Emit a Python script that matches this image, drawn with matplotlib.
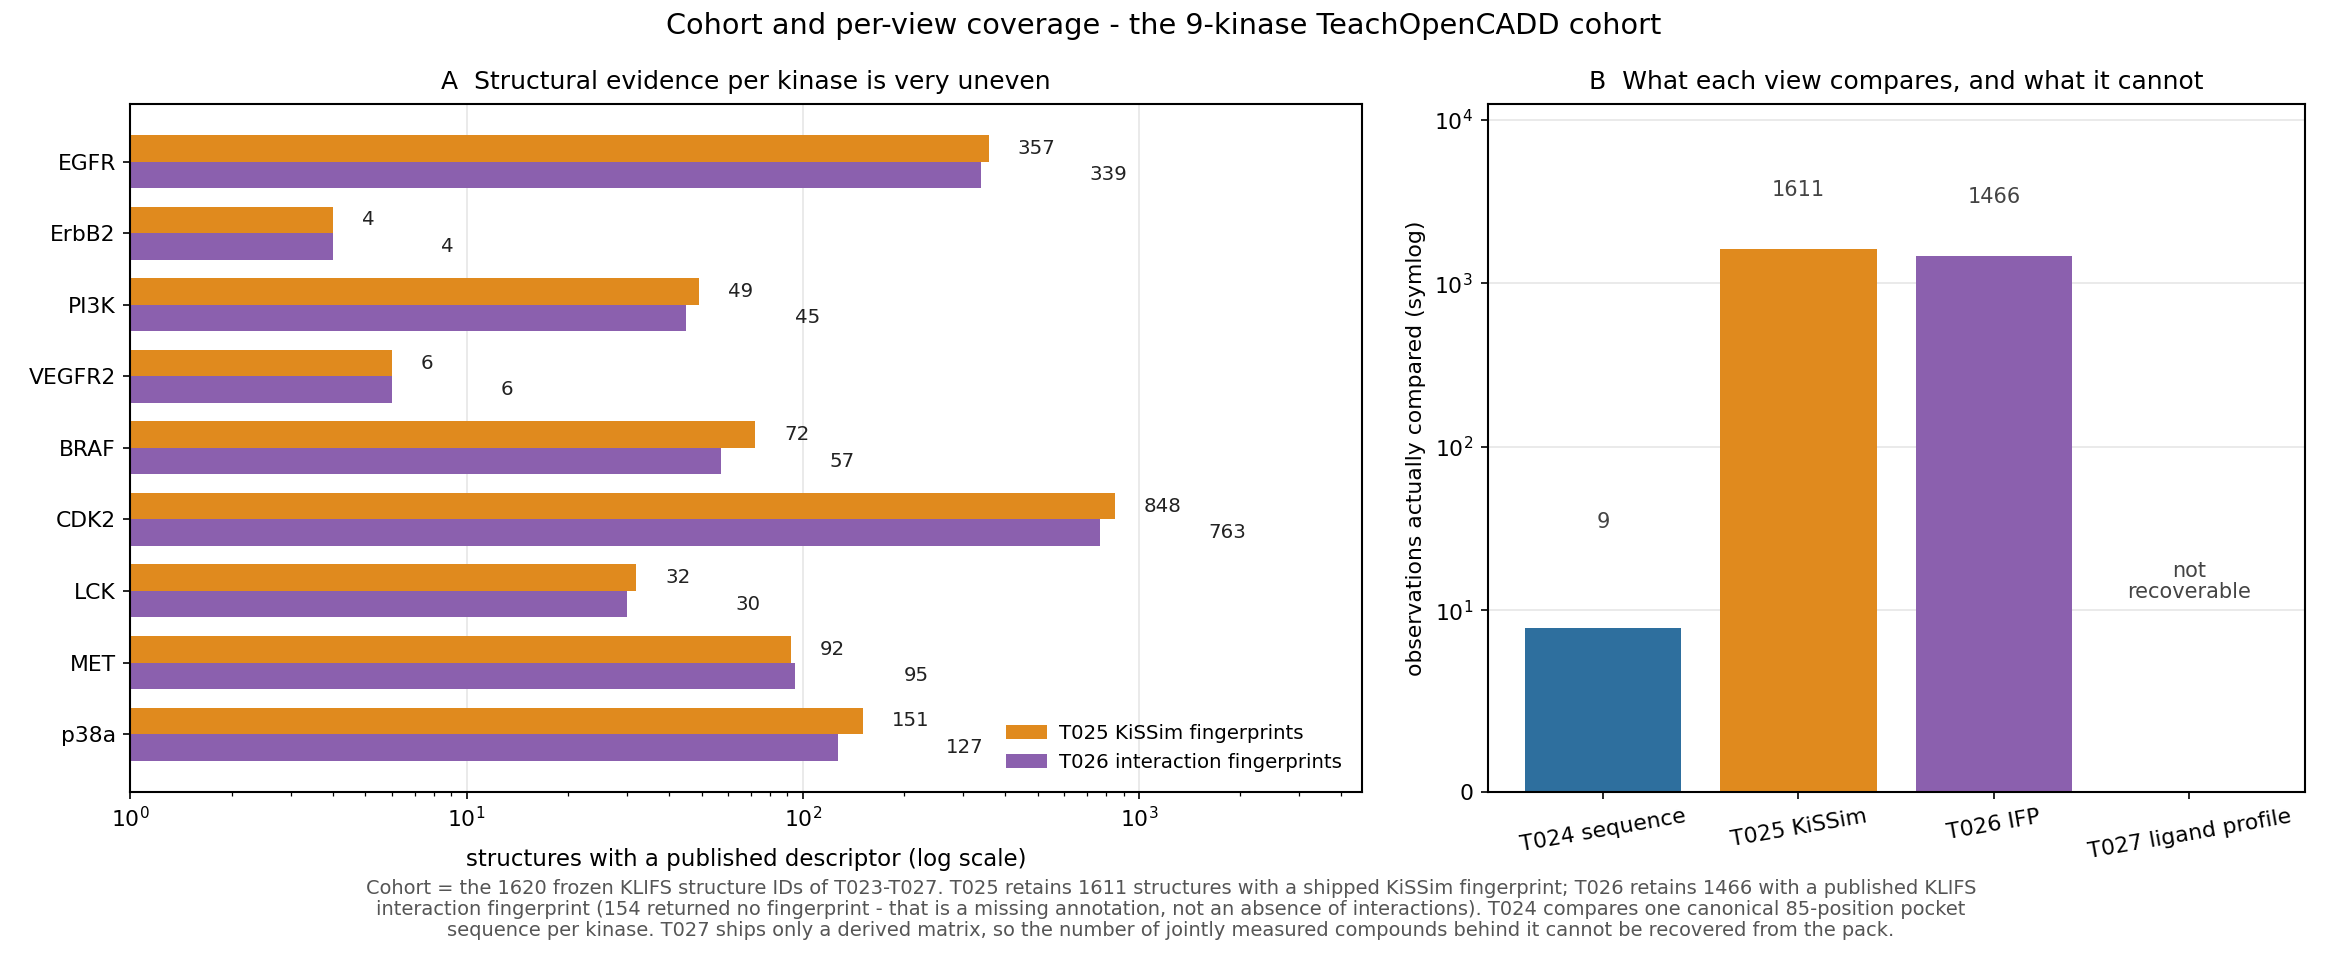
import matplotlib.pyplot as plt
import numpy as np

plt.rcParams['font.family'] = ['DejaVu Sans']
plt.rcParams['axes.linewidth'] = 1.0

# per-kinase structure counts (panel A)
kinases = ['EGFR', 'ErbB2', 'PI3K', 'VEGFR2', 'BRAF', 'CDK2', 'LCK', 'MET', 'p38a']
kissim = [357, 4, 49, 6, 72, 848, 32, 92, 151]
ifp = [339, 4, 45, 6, 57, 763, 30, 95, 127]

# per-view observation counts (panel B); None = not recoverable
views = ['T024 sequence', 'T025 KiSSim', 'T026 IFP', 'T027 ligand profile']
view_counts = [9, 1611, 1466, None]

c_orange = '#e08a1e'
c_purple = '#8b60ae'
c_blue = '#2e6f9e'

fig = plt.figure(figsize=(2328 / 150, 961 / 150), dpi=150)
axA = fig.add_axes([0.056, 0.176, 0.529, 0.716])
axB = fig.add_axes([0.639, 0.176, 0.351, 0.716])

y = np.arange(len(kinases))
h = 0.37
axA.barh(y - h / 2, kissim, height=h, color=c_orange, label='T025 KiSSim fingerprints', zorder=2)
axA.barh(y + h / 2, ifp, height=h, color=c_purple, label='T026 interaction fingerprints', zorder=2)
for i in range(len(kinases)):
    axA.text(kissim[i] * 1.22, y[i] - h / 2, str(kissim[i]), va='center', ha='left',
             fontsize=9.5, color='#222222')
    axA.text(ifp[i] * 2.1, y[i] + h / 2, str(ifp[i]), va='center', ha='left',
             fontsize=9.5, color='#222222')
axA.set_xscale('log')
axA.set_xlim(1, 4600)
axA.set_yticks(y)
axA.set_yticklabels(kinases, fontsize=10.5)
axA.invert_yaxis()
axA.tick_params(axis='x', labelsize=10.5)
axA.grid(axis='x', which='major', color='#e6e6e6', lw=0.8, zorder=0)
axA.set_axisbelow(True)
axA.set_xlabel('structures with a published descriptor (log scale)', fontsize=11, labelpad=8)
axA.set_title('A  Structural evidence per kinase is very uneven', fontsize=12, pad=7)
axA.legend(loc='lower right', frameon=False, fontsize=9.5, handlelength=2.1,
           handletextpad=0.6, borderaxespad=0.6)

xb = np.arange(len(views))
colors = [c_blue, c_orange, c_purple, 'none']
vals = [v if v is not None else 0 for v in view_counts]
axB.bar(xb, vals, width=0.8, color=colors, zorder=2)
axB.set_yscale('symlog', linthresh=10)
axB.set_ylim(0, 12500)
for i, v in enumerate(view_counts):
    if v is None:
        axB.text(xb[i], 15, 'not\nrecoverable', ha='center', va='center',
                 fontsize=10, color='#444444', linespacing=1.1)
    else:
        axB.text(xb[i], max(v * 2, 30), str(v), ha='center', va='bottom',
                 fontsize=10, color='#444444')
axB.set_xticks(xb)
axB.set_xticklabels(views, rotation=10, fontsize=10.5)
axB.tick_params(axis='y', labelsize=10.5)
axB.yaxis.set_minor_locator(plt.NullLocator())
axB.grid(axis='y', color='#e6e6e6', lw=0.8, zorder=0)
axB.set_axisbelow(True)
axB.set_ylabel('observations actually compared (symlog)', fontsize=10.5)
axB.set_title('B  What each view compares, and what it cannot', fontsize=12, pad=7)

fig.suptitle('Cohort and per-view coverage - the 9-kinase TeachOpenCADD cohort', fontsize=13.8, y=0.988)

note = ('Cohort = the 1620 frozen KLIFS structure IDs of T023-T027. T025 retains 1611 structures with a shipped '
        'KiSSim fingerprint; T026 retains 1466 with a published KLIFS\n'
        'interaction fingerprint (154 returned no fingerprint - that is a missing annotation, not an absence of '
        'interactions). T024 compares one canonical 85-position pocket\n'
        'sequence per kinase. T027 ships only a derived matrix, so the number of jointly measured compounds '
        'behind it cannot be recovered from the pack.')
fig.text(0.503, 0.022, note, ha='center', va='bottom', fontsize=9.3, color='#555555', linespacing=1.12)

fig.savefig('out.png', dpi=150)
